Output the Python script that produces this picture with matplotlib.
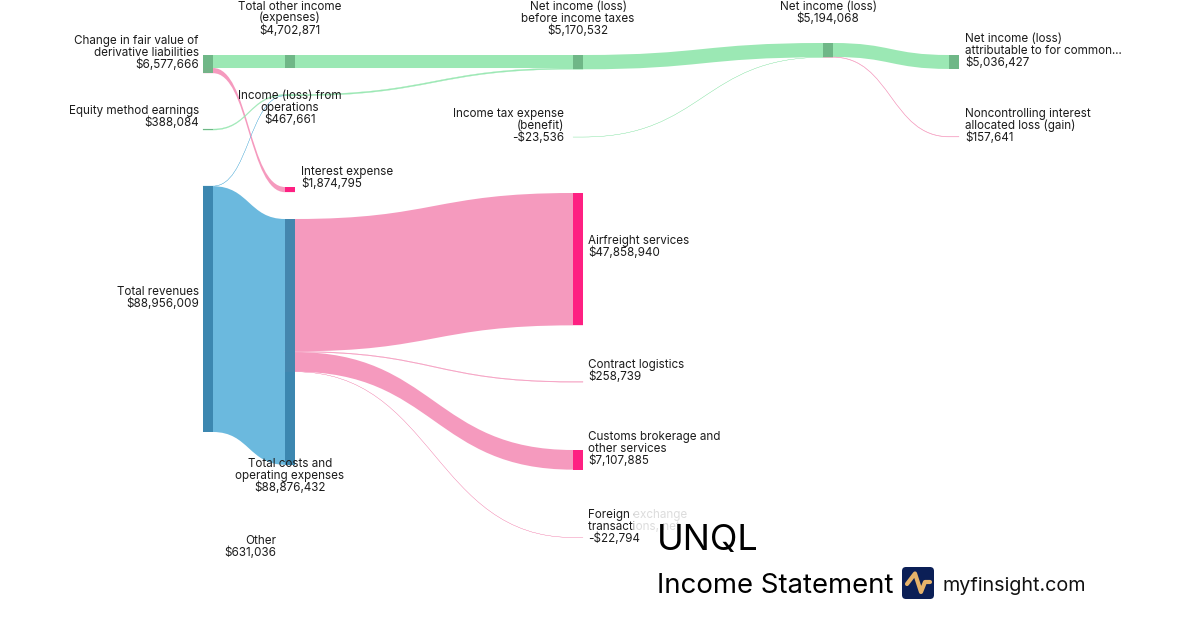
import matplotlib
matplotlib.use('Agg')
import matplotlib.pyplot as plt
from matplotlib.path import Path
from matplotlib.patches import PathPatch, Rectangle, FancyBboxPatch

plt.rcParams['font.family'] = ['Inter', 'DejaVu Sans']

# data
node_names = ['fair_value', 'equity', 'revenues', 'other_income', 'operations', 'interest',
              'costs', 'other', 'before_tax', 'tax', 'airfreight', 'contract', 'customs',
              'foreign', 'net_income', 'attributable', 'noncontrolling']
node_titles = [['Change in fair value of', 'derivative liabilities'], ['Equity method earnings'],
               ['Total revenues'], ['Total other income', '(expenses)'],
               ['Income (loss) from', 'operations'], ['Interest expense'],
               ['Total costs and', 'operating expenses'], ['Other'],
               ['Net income (loss)', 'before income taxes'], ['Income tax expense', '(benefit)'],
               ['Airfreight services'], ['Contract logistics'],
               ['Customs brokerage and', 'other services'], ['Foreign exchange', 'transactions, net'],
               ['Net income (loss)'], ['Net income (loss)', 'attributable to for common...'],
               ['Noncontrolling interest', 'allocated loss (gain)']]
node_values = [6577666, 388084, 88956009, 4702871, 467661, 1874795, 88876432, 631036, 5170532,
               -23536, 47858940, 258739, 7107885, -22794, 5194068, 5036427, 157641]
node_kinds = ['gain', 'gain', 'rev', 'gain', 'none', 'cost', 'rev', 'none', 'gain', 'gain',
              'cost', 'cost', 'cost', 'cost', 'gain', 'gain', 'cost']

link_sources = ['fair_value', 'fair_value', 'equity', 'revenues', 'revenues', 'other_income',
                'operations', 'before_tax', 'tax', 'net_income', 'net_income', 'costs', 'costs',
                'costs', 'costs']
link_targets = ['other_income', 'interest', 'operations', 'operations', 'costs', 'before_tax',
                'before_tax', 'net_income', 'net_income', 'attributable', 'noncontrolling',
                'airfreight', 'contract', 'customs', 'foreign']
link_values = [4702871, 1874795, 388084, 79577, 88876432, 4702871, 467661, 5170532, 23536,
               5036427, 157641, 47858940, 258739, 7107885, 22794]
link_kinds = ['gain', 'cost', 'gain', 'rev', 'rev', 'gain', 'gain', 'gain', 'gain', 'gain',
              'cost', 'cost', 'cost', 'cost', 'cost']

# layout, in pixels of the 1200x630 canvas
px_per_dollar = 246.0 / 88956009
node_w = 10
node_x = dict(zip(node_names, [203, 203, 203, 285, 285, 285, 285, 285, 573, 573, 573, 573, 573,
                               573, 823, 949, 949]))
node_top = dict(zip(node_names, [55, 129, 186, 55, 94.5, 187, 219, 550, 55, 137, 193, 381.5, 450,
                                 537.5, 43, 55, 136.5]))
label_pos = {'fair_value': (199, 39.5, 'right'), 'equity': (199, 109.5, 'right'),
             'revenues': (199, 290.5, 'right'), 'other_income': (290, 5, 'center'),
             'operations': (290, 94.5, 'center'), 'interest': (301, 170.5, 'left'),
             'costs': (290, 462.5, 'center'), 'other': (276, 539.5, 'right'),
             'before_tax': (578, 5, 'center'), 'tax': (564, 112.5, 'right'),
             'airfreight': (588, 239.5, 'left'), 'contract': (588, 363.5, 'left'),
             'customs': (588, 435.5, 'left'), 'foreign': (588, 513.5, 'left'),
             'net_income': (828, 5, 'center'), 'attributable': (965, 37.5, 'left'),
             'noncontrolling': (965, 112.5, 'left')}
link_colors = {'gain': '#9be8b4', 'rev': '#6bb9de', 'cost': '#f59abe'}
node_colors = {'gain': '#6db585', 'rev': '#3a85ae', 'cost': '#ff1a7f'}
text_color = '#1c1c1c'

fig = plt.figure(figsize=(12, 6.3), dpi=100)
ax = fig.add_axes([0, 0, 1, 1])
ax.set_xlim(0, 1200)
ax.set_ylim(630, 0)
ax.axis('off')

# links, stacked from the top of each node in list order
src_used = {n: 0.0 for n in node_names}
tgt_used = {n: 0.0 for n in node_names}
for src, tgt, val, kind in zip(link_sources, link_targets, link_values, link_kinds):
    h = val * px_per_dollar
    y0 = node_top[src] + src_used[src]
    y1 = node_top[tgt] + tgt_used[tgt]
    src_used[src] += h
    tgt_used[tgt] += h
    xa = node_x[src]
    xb = xa + node_w
    xc = node_x[tgt]
    xd = xc + node_w
    xm = (xb + xc) / 2
    verts = [(xa, y0), (xb, y0), (xm, y0), (xm, y1), (xc, y1), (xd, y1),
             (xd, y1 + h), (xc, y1 + h), (xm, y1 + h), (xm, y0 + h), (xb, y0 + h), (xa, y0 + h),
             (xa, y0)]
    codes = [Path.MOVETO, Path.LINETO, Path.CURVE4, Path.CURVE4, Path.CURVE4, Path.LINETO,
             Path.LINETO, Path.LINETO, Path.CURVE4, Path.CURVE4, Path.CURVE4, Path.LINETO,
             Path.CLOSEPOLY]
    # hairline edge keeps the tiny flows visible
    lw = 0.2 if h < 1.5 else 0
    ax.add_patch(PathPatch(Path(verts, codes), facecolor=link_colors[kind],
                           edgecolor=link_colors[kind], lw=lw, zorder=2))

# nodes
for name, val, kind in zip(node_names, node_values, node_kinds):
    if kind == 'none':
        continue
    ax.add_patch(Rectangle((node_x[name], node_top[name]), node_w, abs(val) * px_per_dollar,
                           facecolor=node_colors[kind], alpha=0.95, lw=0, zorder=3))

# labels, the amount line stays above the veil
for name, lines, val in zip(node_names, node_titles, node_values):
    x, y, ha = label_pos[name]
    money = '-$%s' % format(-val, ',') if val < 0 else '$%s' % format(val, ',')
    for i, line in enumerate(lines):
        ax.text(x, y + i * 12 + 4.5, line, ha=ha, va='baseline', fontsize=8.4, color=text_color,
                zorder=4)
    ax.text(x, y + len(lines) * 12 + 4.5, money, ha=ha, va='baseline', fontsize=8.4,
            color=text_color, zorder=6)

# white veil behind the title block
ax.add_patch(Rectangle((634, 505), 460, 100, facecolor='white', alpha=0.85, lw=0, zorder=5))

ax.text(657, 550, 'UNQL', fontsize=26, color='black', va='baseline', ha='left', zorder=6)
ax.text(657, 593, 'Income Statement', fontsize=19.85, color='black', va='baseline', ha='left', zorder=6)
ax.text(942, 591, 'myfinsight.com', fontsize=14.2, color='#111111', va='baseline', ha='left', zorder=6)

# logo
ax.add_patch(FancyBboxPatch((902, 567), 32, 32, boxstyle='round,pad=0,rounding_size=4',
                            facecolor='#0b1f56', lw=0, zorder=6))
ax.plot([907, 915, 921, 925, 930], [584, 573.5, 592, 582, 582], color='#e6b36a', lw=3,
        solid_capstyle='round', solid_joinstyle='round', zorder=7)

fig.savefig('out.png', dpi=100)
